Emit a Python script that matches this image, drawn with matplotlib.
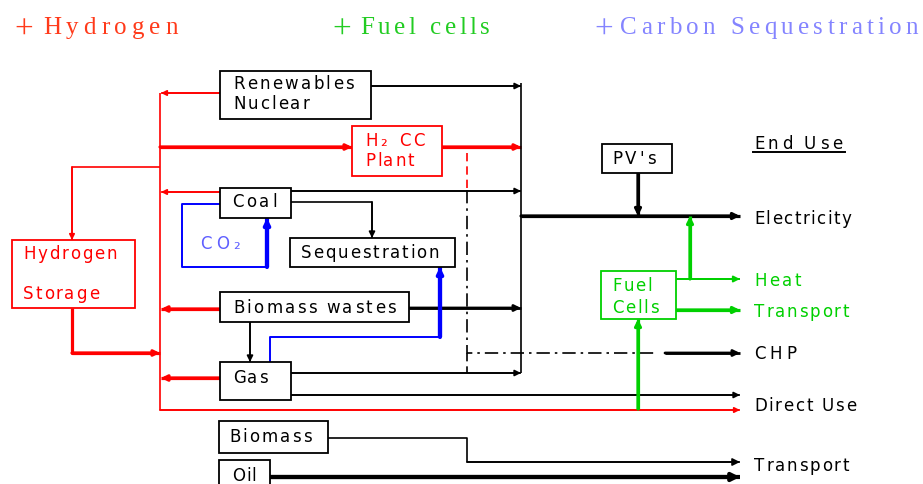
"""Energy system flow diagram: hydrogen, fuel cells and carbon sequestration."""

import matplotlib

matplotlib.use("Agg")
import matplotlib.pyplot as plt
from matplotlib.font_manager import FontProperties
from matplotlib.patches import Rectangle

RED = "#ff0000"
GREEN = "#00d000"
BLUE = "#0000ff"
BLACK = "#000000"

# text content
THEMES = ["Hydrogen", "Fuel cells", "Carbon Sequestration"]
THEME_COLORS = ["#ff3a1a", "#22cc22", "#8484ff"]
SOURCES = [["Renewables", "Nuclear"], ["Coal"], ["Biomass wastes"], ["Gas"], ["Biomass"], ["Oil"]]
CONVERTERS = [["H\u2082 CC", "Plant"], ["Sequestration"], ["Hydrogen", "Storage"], ["PV's"], ["Fuel", "Cells"]]
CONVERTER_COLORS = [RED, BLACK, RED, BLACK, GREEN]
END_USE_TITLE = "End Use"
END_USES = ["Electricity", "Heat", "Transport", "CHP", "Direct Use", "Transport"]
END_USE_COLORS = [BLACK, GREEN, GREEN, BLACK, BLACK, BLACK]
CO2_LABEL = "CO\u2082"

fig = plt.figure(figsize=(9.23, 4.84), dpi=100)
ax = fig.add_axes([0, 0, 1, 1])
ax.set_xlim(0, 923)
ax.set_ylim(484, 0)
ax.axis("off")
R = fig.canvas.get_renderer()


def spaced(x0, x1, yc, s, color=BLACK, size=12, family="DejaVu Sans", cap=0.73):
    """Spread the characters of s evenly between x0 and x1 (letter-spaced look)."""
    prop = FontProperties(family=family, size=size)
    widths = []
    for ch in s:
        if ch == " ":
            widths.append(size * 0.3 * 100 / 72)
        else:
            widths.append(R.get_text_width_height_descent(ch, prop, ismath=False)[0])
    gap = (x1 - x0 - sum(widths)) / max(len(s) - 1, 1)
    base = yc + cap * size * 100 / 72 / 2
    x = x0
    for ch, w in zip(s, widths):
        if ch != " ":
            ax.text(x, base, ch, fontproperties=prop, color=color, ha="left", va="baseline")
        x += w + gap


def box(rect, color=BLACK):
    x0, y0, x1, y1 = rect
    ax.add_patch(Rectangle((x0, y0), x1 - x0, y1 - y0, fill=True, facecolor="white",
                           edgecolor=color, lw=1.3, zorder=3))


def flow(pts, color=BLACK, lw=1.1, head=True, ls="-", ms=9, z=2):
    xs, ys = zip(*pts)
    ax.plot(xs, ys, color=color, lw=lw, ls=ls, solid_capstyle="butt", zorder=z)
    if head:
        ax.annotate("", xy=pts[-1], xytext=pts[-2], zorder=z,
                    arrowprops=dict(arrowstyle="-|>", color=color, lw=lw, shrinkA=0,
                                    shrinkB=0, mutation_scale=ms))


THIN, THICK = 1.2, 2.3

# ---- titles
plus_font = FontProperties(family="Liberation Serif", size=24)
for s, c, (xp, x0, x1) in zip(THEMES, THEME_COLORS, [(14, 43, 178), (332, 360, 490), (594, 620, 918)]):
    ax.text(xp, 30.5, "+", fontproperties=plus_font, color=c, ha="left", va="center")
    spaced(x0, x1, 25.5, s, color=c, size=18, family="Liberation Serif", cap=0.66)

# ---- red hydrogen network
flow([(160, 93), (160, 410), (740, 410)], RED, THIN, ms=8)
flow([(220, 93), (161, 93)], RED, THIN, ms=8)
flow([(160, 147), (352, 147)], RED, THICK, ms=8)
flow([(442, 147), (521, 147)], RED, THICK, ms=8)
flow([(160, 167), (72, 167), (72, 240)], RED, THIN, ms=8)
flow([(220, 192), (161, 192)], RED, THIN, ms=8)
flow([(220, 309), (161, 309)], RED, THICK, ms=8)
flow([(72, 308), (72, 353), (160, 353)], RED, THICK, ms=8)
flow([(220, 378), (161, 378)], RED, THICK, ms=8)

# ---- black energy network
flow([(521, 83), (521, 373)], BLACK, THIN, head=False)
flow([(371, 86), (521, 86)], BLACK, THIN)
flow([(291, 191), (521, 191)], BLACK, THIN)
flow([(291, 202), (372, 202), (372, 238)], BLACK, THIN)
flow([(409, 308), (521, 308)], BLACK, 2.0)
flow([(250, 322), (250, 362)], BLACK, THIN)
flow([(291, 373), (521, 373)], BLACK, THIN)
flow([(291, 395), (740, 395)], BLACK, THIN)
flow([(521, 216), (740, 216)], BLACK, THICK)
flow([(638, 173), (638, 216)], BLACK, THICK)
flow([(328, 438), (467, 438), (467, 462), (740, 462)], BLACK, THIN, ms=11)
flow([(270, 477), (740, 477)], BLACK, 3.0, ms=11)

# CHP dash-dot route
ax.plot([467, 467], [153, 190], color=RED, lw=THIN, ls=(0, (5, 3)), zorder=2)
ax.plot([467, 467, 657], [190, 353, 353], color=BLACK, lw=THIN, ls=(0, (8, 3, 1.5, 3)), zorder=2)
ax.plot([467, 467], [353, 373], color=BLACK, lw=THIN, ls=(0, (5, 3)), zorder=2)
flow([(665, 353), (740, 353)], BLACK, 2.0)

# ---- blue CO2 routes
flow([(220, 204), (182, 204), (182, 267), (267, 267)], BLUE, 1.4, head=False)
flow([(267, 267), (267, 218)], BLUE, 3.0, ms=8)
flow([(270, 362), (270, 337), (440, 337)], BLUE, 1.4, head=False, z=2.5)
flow([(440, 337), (440, 267)], BLUE, 3.0, ms=8, z=2.5)

# ---- green fuel cell routes
flow([(676, 279), (740, 279)], GREEN, 1.4)
flow([(676, 310), (740, 310)], GREEN, THICK)
flow([(690, 279), (690, 216)], GREEN, THICK, z=2.5)
flow([(638, 409), (638, 319)], GREEN, THICK, z=2.5)

# ---- source boxes
source_rects = [(220, 71, 371, 119), (220, 188, 291, 218), (220, 292, 409, 322),
                (220, 362, 291, 400), (219, 421, 328, 453), (219, 460, 270, 492)]
source_text = [[(233, 354, 83), (233, 309, 103)], [(232, 277, 201)], [(233, 396, 307)],
               [(233, 268, 377)], [(229, 312, 436)], [(232, 256, 475)]]
for lines, rect, spans in zip(SOURCES, source_rects, source_text):
    box(rect)
    for s, (x0, x1, y) in zip(lines, spans):
        spaced(x0, x1, y, s)

# ---- converter boxes
conv_rects = [(352, 126, 442, 176), (290, 238, 455, 267), (12, 240, 135, 308),
              (602, 144, 672, 173), (601, 271, 676, 319)]
conv_text = [[(365, 425, 140), (365, 414, 160)], [(301, 439, 252)],
             [(23, 117, 253), (23, 99, 293)], [(612, 656, 158)],
             [(612, 652, 285), (612, 659, 307)]]
for lines, rect, spans, c in zip(CONVERTERS, conv_rects, conv_text, CONVERTER_COLORS):
    box(rect, c)
    for s, (x0, x1, y) in zip(lines, spans):
        spaced(x0, x1, y, s, color=c)

spaced(200, 240, 243, CO2_LABEL, color="#6060ff")

# ---- end uses
spaced(754, 842, 143, END_USE_TITLE)
ax.plot([753, 845], [152, 152], color=BLACK, lw=1.4)
end_spans = [(754, 851, 218), (754, 801, 280), (754, 849, 311), (754, 796, 353),
             (754, 856, 405), (754, 849, 465)]
for s, c, (x0, x1, y) in zip(END_USES, END_USE_COLORS, end_spans):
    spaced(x0, x1, y, s, color=c)

fig.savefig("out.png", dpi=100, facecolor="white")
